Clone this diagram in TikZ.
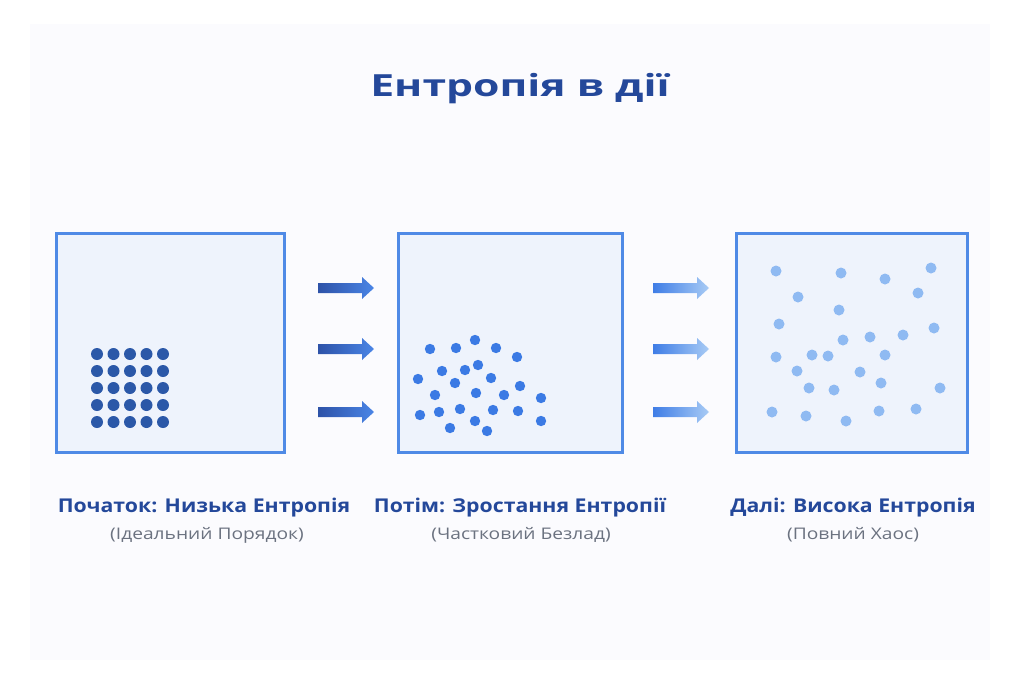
\documentclass[tikz,border=0pt]{standalone}
\usepackage{fontspec}
\setmainfont{Open Sans}
\newfontfamily\titlefont{Open Sans}[FakeStretch=1.40]
\newfontfamily\headfont{Open Sans}[FakeStretch=1.12]
\newfontfamily\subfont{Open Sans}[FakeStretch=1.20]
\definecolor{boxfill}{HTML}{EEF3FC}
\definecolor{boxline}{HTML}{4F8AE6}
\definecolor{dotA}{HTML}{2B58A8}
\definecolor{dotB}{HTML}{3B7AE4}
\definecolor{dotC}{HTML}{8FBAF2}
\definecolor{titleblue}{HTML}{24489A}
\definecolor{subgray}{HTML}{6B7280}
\definecolor{arrAl}{HTML}{2D52A8}
\definecolor{arrAr}{HTML}{4A85E6}
\definecolor{arrBl}{HTML}{3F7DE6}
\definecolor{arrBr}{HTML}{A8CBF5}
\definecolor{panel}{HTML}{FBFBFE}
\tikzset{
  statebox/.style={draw=boxline, fill=boxfill, line width=3pt, minimum width=#1, minimum height=219pt, inner sep=0pt},
  heading/.style={anchor=base, text=titleblue, font=\headfont\fontsize{19}{22}\selectfont\bfseries},
  sublabel/.style={anchor=base, text=subgray, font=\subfont\fontsize{16}{18}\selectfont},
}
\newcommand{\fatarrow}[4]{%
  \shade[left color=#3, right color=#4] (#1,#2-5) -- (#1+44,#2-5) -- (#1+44,#2-11) -- (#1+56,#2) -- (#1+44,#2+11) -- (#1+44,#2+5) -- (#1,#2+5) -- cycle;}
\begin{document}
\begin{tikzpicture}[x=1pt,y=-1pt]
\useasboundingbox (0,0) rectangle (1024,683);
\fill[white] (0,0) rectangle (1024,683);
\fill[panel] (30,24) rectangle (990,660);

\node[anchor=base, text=titleblue, font=\titlefont\fontsize{30.5}{34}\selectfont\bfseries] (title) at (520,96) {Ентропія в дії};

\node[statebox=228pt] (b1) at (170,342.5) {};
\node[statebox=224pt] (b2) at (510,342.5) {};
\node[statebox=231pt] (b3) at (851.5,342.5) {};

% ordered grid
\foreach \i in {0,...,4}{
  \foreach \j in {0,...,4}{
    \fill[dotA] (97+16.5*\i,354+17*\j) circle (6);
  }
}
% partial disorder
\foreach \p/\q in {430/349,456/348,475/340,496/348,517/357,442/371,465/370,478/365,491/378,418/379,455/383,520/386,435/395,476/393,504/395,541/398,420/415,439/412,460/409,493/410,518/411,541/421,475/421,450/428,487/431}{
  \fill[dotB] (\p,\q) circle (5.2);
}
% full chaos
\foreach \p/\q in {776/271,841/273,885/279,931/268,798/297,918/293,839/310,779/324,934/328,843/340,870/337,903/335,776/357,812/355,828/356,885/355,797/371,860/372,881/383,809/388,834/390,940/388,772/412,806/416,846/421,879/411,916/409}{
  \fill[dotC] (\p,\q) circle (5.5);
}

% arrows
\foreach \y in {288,349,412}{
  \fatarrow{318}{\y}{arrAl}{arrAr}
  \fatarrow{653}{\y}{arrBl}{arrBr}
}

\node[heading] (h1) at (204,512) {Початок: Низька Ентропія};
\node[sublabel] (s1) at (207,539) {(Ідеальний Порядок)};
\node[heading] (h2) at (520,512) {Потім: Зростання Ентропії};
\node[sublabel] (s2) at (521,539) {(Частковий Безлад)};
\node[heading] (h3) at (853,512) {Далі: Висока Ентропія};
\node[sublabel] (s3) at (853,539) {(Повний Хаос)};
\end{tikzpicture}
\end{document}
